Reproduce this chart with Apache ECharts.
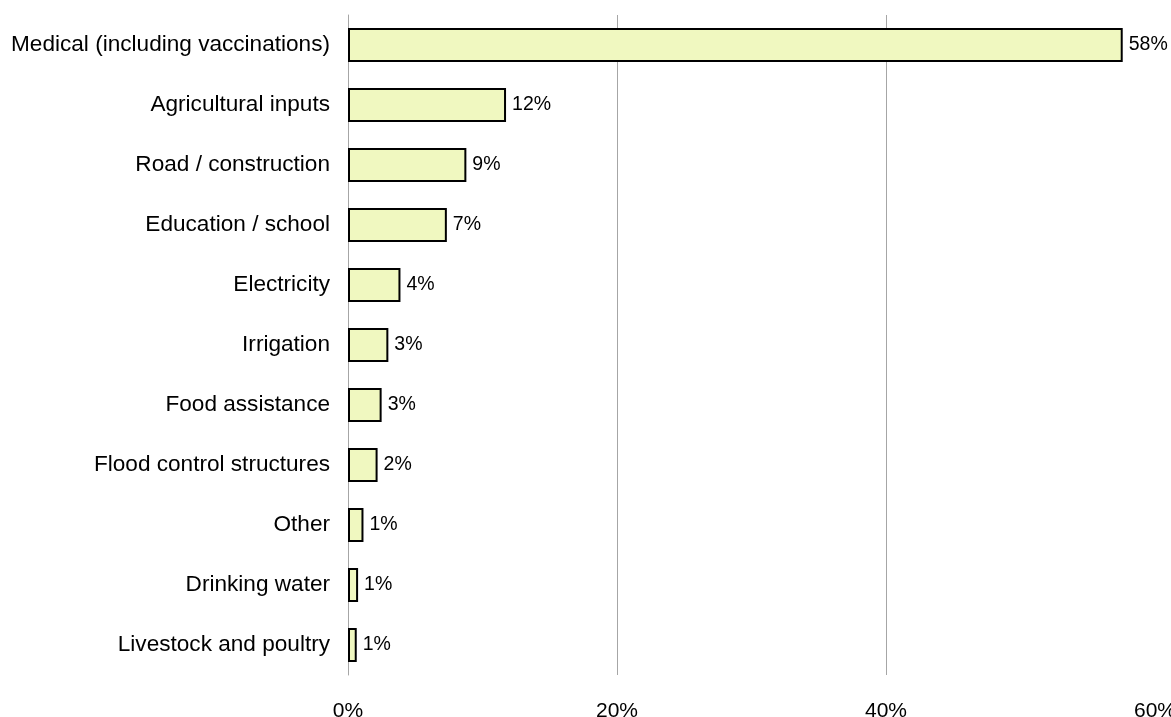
<!DOCTYPE html>
<html><head><meta charset="utf-8">
<script src="https://cdn.jsdelivr.net/npm/echarts@6/dist/echarts.min.js"></script>
<style>html,body{margin:0;padding:0;background:#fff}#c{width:1171px;height:717px}</style>
</head><body><div id="c"></div>
<script>
const categories = ["Medical (including vaccinations)","Agricultural inputs","Road / construction","Education / school","Electricity","Irrigation","Food assistance","Flood control structures","Other","Drinking water","Livestock and poultry"];
const values = [57.6, 11.75, 8.8, 7.35, 3.9, 3.0, 2.5, 2.2, 1.15, 0.75, 0.65];
const tickLabels = [0, 20, 40, 60];
const chart = echarts.init(document.getElementById('c'));
const font = '"Liberation Sans", Arial, sans-serif';
chart.setOption({
  animation: false,
  grid: {left: 348, right: 16, top: 15, bottom: 42, containLabel: false, outerBoundsMode: 'none'},
  xAxis: {
    type: 'value', min: 0, max: 60, interval: 20,
    axisLine: {show: false}, axisTick: {show: false},
    axisLabel: {formatter: v => tickLabels.includes(v) ? v + '%' : '', color: '#000', fontSize: 21, fontFamily: font, margin: 26},
    splitLine: {lineStyle: {color: ['transparent', '#a6a6a6', '#a6a6a6', 'transparent'], width: 1}}
  },
  yAxis: {
    type: 'category', data: categories, inverse: true,
    axisLine: {show: true, lineStyle: {color: '#a6a6a6', width: 1}},
    axisTick: {show: false},
    axisLabel: {color: '#000', fontSize: 22.6, fontFamily: font, margin: 18, padding: [0, 0, -3, 0]}
  },
  series: [{
    type: 'bar', data: values, barWidth: 34,
    itemStyle: {color: '#f0f8c0', borderColor: '#000', borderWidth: 2},
    label: {show: true, position: 'right', distance: 6, formatter: p => Math.round(p.value) + '%', color: '#000', fontSize: 19.5, fontFamily: font, padding: [0, 0, -3, 0]}
  }]
});
</script></body></html>
